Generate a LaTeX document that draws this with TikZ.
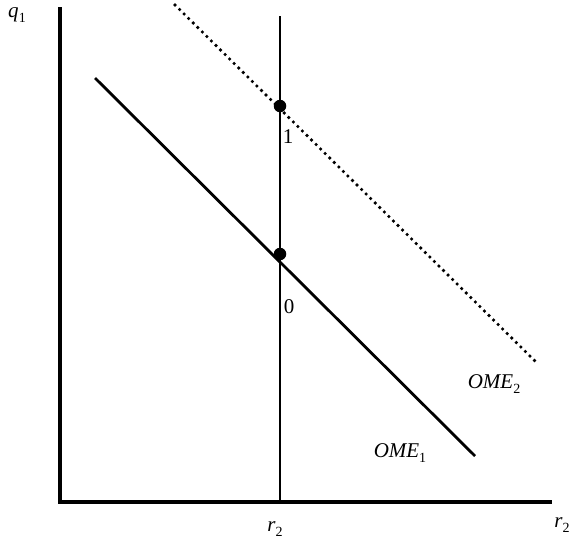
\documentclass[tikz,border=0pt]{standalone}
\usepackage{fontspec}
\setmainfont{Liberation Serif}
\newcommand{\mysub}[1]{\raisebox{-0.25em}{\fontsize{14}{16}\selectfont\upshape #1}}
\begin{document}
\begin{tikzpicture}[x=1pt,y=-1pt,
  axis/.style={line width=4pt,line cap=rect},
  thin/.style={line width=1.1pt},
  ome/.style={line width=2.8pt},
  omedot/.style={line width=3.6pt,line cap=round,dash pattern=on 0pt off 6.4pt},
  pt/.style={circle,fill=black,inner sep=0pt,minimum size=12.5pt},
  lbl/.style={inner sep=0pt,font=\fontsize{21}{24}\selectfont\itshape}]
\useasboundingbox (0,0) rectangle (572,544);
% axes
\coordinate (ytop) at (60,9);
\coordinate (orig) at (60,502);
\coordinate (xend) at (550,502);
\draw[axis] (ytop) -- (orig) -- (xend);
% vertical r2 line
\coordinate (vtop) at (280,16);
\coordinate (vbot) at (280,502);
\draw[thin] (vtop) -- (vbot);
% OME1 solid
\coordinate (s1) at (95,78);
\coordinate (e1) at (475,456);
\draw[ome] (s1) -- (e1);
% OME2 dotted
\coordinate (s2) at (175,5);
\coordinate (e2) at (538,364);
\draw[omedot] (s2) -- (e2);
% dots
\node[pt] (d1) at (280,106) {};
\node[pt] (d0) at (280,254) {};
% labels
\node[lbl] (l1) at (288,137) {\upshape 1};
\node[lbl] (l0) at (289,307) {\upshape 0};
\node[lbl] (q1) at (17,15) {q\mysub{1}};
\node[lbl] (r2m) at (275,529) {r\mysub{2}};
\node[lbl] (r2e) at (562,525) {r\mysub{2}};
\node[lbl] (o2) at (494,384) {OME\mysub{2}};
\node[lbl] (o1) at (400,453) {OME\mysub{1}};
\end{tikzpicture}
\end{document}
